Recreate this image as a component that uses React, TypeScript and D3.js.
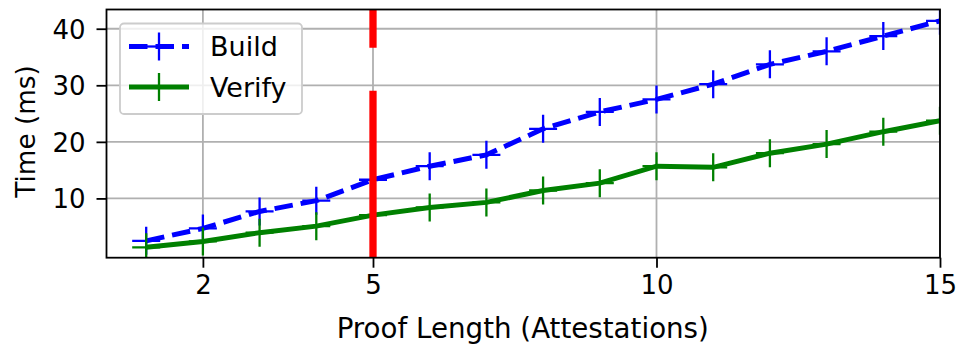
import React, { useEffect, useRef } from 'react'
import * as d3 from 'd3'

const proofLengths = [1, 2, 3, 4, 5, 6, 7, 8, 9, 10, 11, 12, 13, 14, 15]
const buildTimes = [2.5, 4.7, 7.7, 9.6, 13.3, 15.7, 17.7, 22.3, 25.3, 27.5, 30.2, 33.7, 36.0, 38.7, 41.4]
const verifyTimes = [1.35, 2.4, 3.95, 5.1, 7.05, 8.4, 9.3, 11.4, 12.7, 15.7, 15.5, 18.0, 19.6, 21.8, 23.75]
const xTicks = [2, 5, 10, 15]
const yTicks = [10, 20, 30, 40]
const markerLine = 5

const series = [
    { name: 'Build', values: buildTimes, color: '#0000ff', dash: '18.5 8' },
    { name: 'Verify', values: verifyTimes, color: '#008000', dash: null as string | null },
]

export default function App() {
    const svgRef = useRef<SVGSVGElement>(null)
    const width = 961
    const height = 346

    useEffect(() => {
        if (!svgRef.current) return
        const svg = d3.select(svgRef.current)
        svg.selectAll("*").remove()

        const left = 106.5, right = 940, top = 9.5, bottom = 257.7
        const font = "'DejaVu Sans', sans-serif"

        const x = d3.scaleLinear().domain([0.3, 15]).range([left, right])
        const y = d3.scaleLinear().domain([-0.48, 43.4]).range([bottom, top])

        svg.append("rect").attr("width", width).attr("height", height).attr("fill", "white")

        svg.append("clipPath").attr("id", "plot-clip")
            .append("rect").attr("x", left).attr("y", top)
            .attr("width", right - left).attr("height", bottom - top)

        // Grid
        const grid = svg.append("g").attr("stroke", "#b0b0b0").attr("stroke-width", 1.8)
        grid.selectAll(".gx").data(xTicks).enter().append("line")
            .attr("x1", d => x(d)).attr("x2", d => x(d)).attr("y1", top).attr("y2", bottom)
        grid.selectAll(".gy").data(yTicks).enter().append("line")
            .attr("x1", left).attr("x2", right).attr("y1", d => y(d)).attr("y2", d => y(d))

        // Axes
        const xAxis = svg.append("g")
            .attr("transform", `translate(0,${bottom})`)
            .call(d3.axisBottom(x).tickValues(xTicks).tickSize(10).tickSizeOuter(0).tickPadding(8))
        const yAxis = svg.append("g")
            .attr("transform", `translate(${left},0)`)
            .call(d3.axisLeft(y).tickValues(yTicks).tickSize(10).tickSizeOuter(0).tickPadding(11))
        for (const ax of [xAxis, yAxis]) {
            ax.select(".domain").remove()
            ax.selectAll("line").attr("stroke", "black").attr("stroke-width", 1.8)
            ax.selectAll("text").attr("font-family", font).attr("font-size", 26).attr("fill", "black")
        }
        xAxis.selectAll("text").attr("dy", "0.71em")
        yAxis.selectAll("text").attr("dy", "0.36em")

        const plot = svg.append("g").attr("clip-path", "url(#plot-clip)")

        // Lines + markers
        series.forEach(s => {
            const pts = proofLengths.map((p, i) => [p, s.values[i]] as [number, number])
            const line = d3.line<[number, number]>().x(d => x(d[0])).y(d => y(d[1]))
            plot.append("path")
                .attr("d", line(pts))
                .attr("fill", "none")
                .attr("stroke", s.color)
                .attr("stroke-width", markerLine)
                .attr("stroke-dasharray", s.dash)
            const m = plot.append("g").attr("stroke", s.color).attr("stroke-width", 2.3)
            m.selectAll(".mv").data(pts).enter().append("line")
                .attr("x1", d => x(d[0])).attr("x2", d => x(d[0]))
                .attr("y1", d => y(d[1]) - 14).attr("y2", d => y(d[1]) + 14)
            m.selectAll(".mh").data(pts).enter().append("line")
                .attr("x1", d => x(d[0]) - 14).attr("x2", d => x(d[0]) + 14)
                .attr("y1", d => y(d[1])).attr("y2", d => y(d[1]))
        })

        // Red marker at proof length 5
        plot.append("line")
            .attr("x1", x(5)).attr("x2", x(5))
            .attr("y1", bottom).attr("y2", top)
            .attr("stroke", "#ff0000").attr("stroke-width", 7.3)
            .attr("stroke-dasharray", "167 43")

        // Frame
        svg.append("rect")
            .attr("x", left).attr("y", top).attr("width", right - left).attr("height", bottom - top)
            .attr("fill", "none").attr("stroke", "black").attr("stroke-width", 1.8)

        // Labels
        svg.append("text")
            .attr("x", (left + right) / 2 - 0.5).attr("y", 338)
            .attr("text-anchor", "middle")
            .attr("font-family", font).attr("font-size", 27.7)
            .text("Proof Length (Attestations)")
        svg.append("text")
            .attr("transform", `translate(35,131.5) rotate(-90)`)
            .attr("text-anchor", "middle")
            .attr("font-family", font).attr("font-size", 26.3)
            .text("Time (ms)")

        // Legend
        const lg = svg.append("g")
        lg.append("rect")
            .attr("x", 120).attr("y", 23.5).attr("width", 182).attr("height", 90.5)
            .attr("rx", 4)
            .attr("fill", "white").attr("fill-opacity", 0.8)
            .attr("stroke", "#cccccc").attr("stroke-width", 1.8)
        series.forEach((s, i) => {
            const ly = 46.5 + i * 40.5
            lg.append("line")
                .attr("x1", 129).attr("x2", 189).attr("y1", ly).attr("y2", ly)
                .attr("stroke", s.color).attr("stroke-width", markerLine)
                .attr("stroke-dasharray", s.dash)
            lg.append("line")
                .attr("x1", 159).attr("x2", 159).attr("y1", ly - 14).attr("y2", ly + 14)
                .attr("stroke", s.color).attr("stroke-width", 2.3)
            lg.append("line")
                .attr("x1", 145).attr("x2", 173).attr("y1", ly).attr("y2", ly)
                .attr("stroke", s.color).attr("stroke-width", 2.3)
            lg.append("text")
                .attr("x", 210).attr("y", ly + 9.5)
                .attr("font-family", font).attr("font-size", 27)
                .text(s.name)
        })
    }, [])

    return (
        <svg ref={svgRef} width={width} height={height} viewBox={`0 0 ${width} ${height}`}
            style={{ position: 'absolute', left: 0, top: 0 }} />
    )
}
